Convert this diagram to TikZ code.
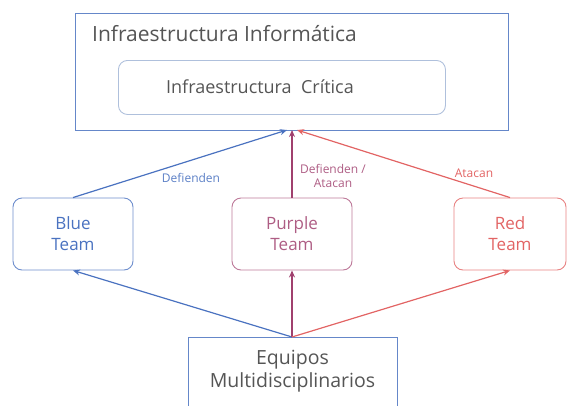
\documentclass[tikz,border=0pt]{standalone}
\usepackage{fontspec}
\setmainfont{Open Sans}
\usetikzlibrary{arrows.meta}
\definecolor{bluec}{HTML}{4A72C0}
\definecolor{purplec}{HTML}{A0406E}
\definecolor{redc}{HTML}{E26464}
\definecolor{txt}{HTML}{555555}
\definecolor{softb}{HTML}{AFC0DC}
\tikzset{
  frame/.style={draw=bluec!85, line width=1.3pt, text=txt},
  team/.style={rounded corners=9pt, line width=0.9pt, minimum width=120pt, minimum height=72pt, align=center, font=\fontsize{17}{21}\selectfont},
  link/.style={line width=1.2pt, -{Stealth[length=7pt,width=6pt]}},
  lbl/.style={font=\fontsize{12}{14}\selectfont, align=center}
}
\begin{document}
\begin{tikzpicture}[x=1pt,y=-1pt]
\useasboundingbox (0,0) rectangle (567,405);
% top frame
\node[frame, minimum width=433pt, minimum height=117pt, anchor=north west] (infra) at (75,13) {};
\node[anchor=west, text=txt, font=\fontsize{21}{24}\selectfont, inner sep=0pt] (infratitle) at (92,34) {Infraestructura Informática};
\node[draw=softb, rounded corners=9pt, line width=0.9pt, minimum width=327pt, minimum height=54pt, anchor=north west] (crit) at (118,60) {};
\node[text=txt, font=\fontsize{18}{21}\selectfont] (crittext) at (260,87) {Infraestructura\ \ Crítica};
% teams
\node[team, draw=bluec!80, text=bluec] (blue) at (73,234) {Blue\\Team};
\node[team, draw=purplec!70, text=purplec!85] (purple) at (292,234) {Purple\\Team};
\node[team, draw=redc!80, text=redc, minimum width=112pt] (red) at (510,234) {Red\\Team};
% bottom frame
\node[frame, minimum width=209pt, minimum height=80pt, anchor=north west] (equip) at (188,337) {};
\node[text=txt, align=center, font=\fontsize{19.5}{23}\selectfont] (equiptext) at (292.5,371) {Equipos\\Multidisciplinarios};
% connectors
\coordinate (hub) at (292,130);
\coordinate (base) at (292,337);
\draw[link, bluec] (blue.north) -- ([xshift=-5pt]hub);
\draw[link, purplec] (purple.north) -- (hub);
\draw[link, redc] (red.north) -- ([xshift=5pt]hub);
\draw[link, bluec] (base) -- (blue.south);
\draw[link, purplec] (base) -- (purple.south);
\draw[link, redc] (base) -- (red.south);
% labels
\node[lbl, text=bluec!90] (ldef) at (191,178) {Defienden};
\node[lbl, text=purplec!85] (lboth) at (333,176) {Defienden /\\Atacan};
\node[lbl, text=redc] (latk) at (474,173) {Atacan};
\end{tikzpicture}
\end{document}
